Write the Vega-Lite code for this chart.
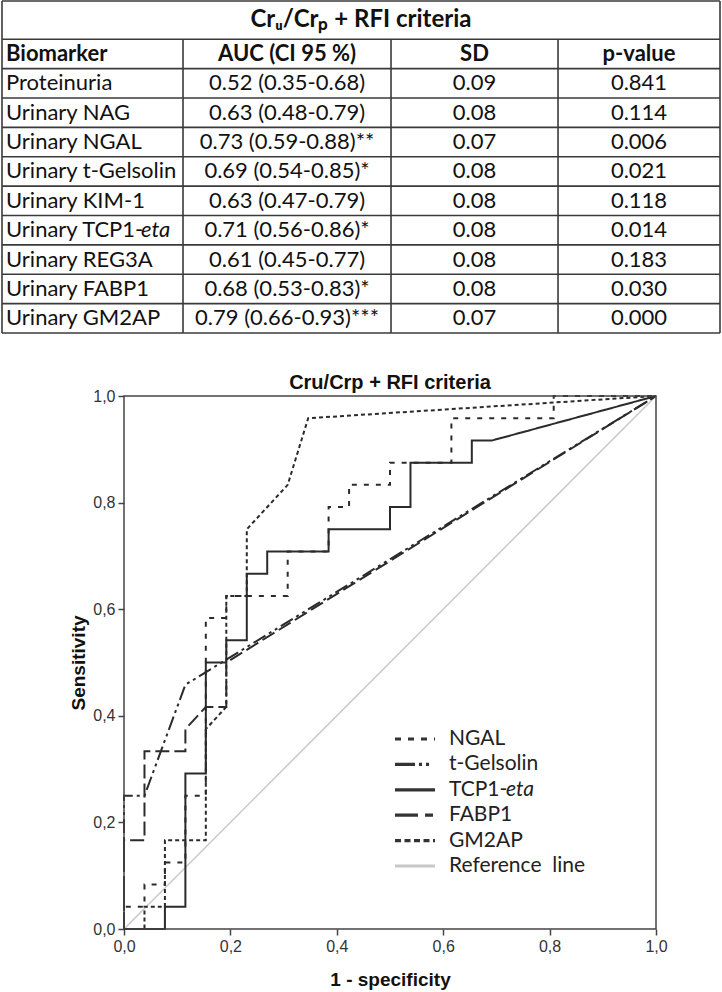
{
  "$schema": "https://vega.github.io/schema/vega-lite/v6.json",
  "width": 722,
  "height": 929,
  "autosize": "none",
  "padding": {"left": 0, "top": 0, "right": 0, "bottom": 63},
  "background": "#ffffff",
  "config": {"view": {"stroke": null}},
  "datasets": {
    "table": [
      {"row": 1, "Biomarker": "Proteinuria", "AUC": "0.52 (0.35-0.68)", "SD": "0.09", "p": "0.841"},
      {"row": 2, "Biomarker": "Urinary NAG", "AUC": "0.63 (0.48-0.79)", "SD": "0.08", "p": "0.114"},
      {"row": 3, "Biomarker": "Urinary NGAL", "AUC": "0.73 (0.59-0.88)**", "SD": "0.07", "p": "0.006"},
      {"row": 4, "Biomarker": "Urinary t-Gelsolin", "AUC": "0.69 (0.54-0.85)*", "SD": "0.08", "p": "0.021"},
      {"row": 5, "Biomarker": "Urinary KIM-1", "AUC": "0.63 (0.47-0.79)", "SD": "0.08", "p": "0.118"},
      {"row": 6, "Biomarker": "Urinary TCP1-", "ital": "eta", "AUC": "0.71 (0.56-0.86)*", "SD": "0.08", "p": "0.014"},
      {"row": 7, "Biomarker": "Urinary REG3A", "AUC": "0.61 (0.45-0.77)", "SD": "0.08", "p": "0.183"},
      {"row": 8, "Biomarker": "Urinary FABP1", "AUC": "0.68 (0.53-0.83)*", "SD": "0.08", "p": "0.030"},
      {"row": 9, "Biomarker": "Urinary GM2AP", "AUC": "0.79 (0.66-0.93)***", "SD": "0.07", "p": "0.000"}
    ],
    "hlines": [
      {"y": -1.8}, {"y": -0.5}, {"y": 0.5}, {"y": 1.5}, {"y": 2.5}, {"y": 3.5},
      {"y": 4.5}, {"y": 5.5}, {"y": 6.5}, {"y": 7.5}, {"y": 8.5}, {"y": 9.5}
    ],
    "vlines": [
      {"x": 0, "y1": -1.8, "y2": 9.5},
      {"x": 1, "y1": -1.8, "y2": 9.5},
      {"x": 0.2521, "y1": -0.5, "y2": 9.5},
      {"x": 0.5418, "y1": -0.5, "y2": 9.5},
      {"x": 0.7744, "y1": -0.5, "y2": 9.5}
    ],
    "ref": [{"x": 0, "y": 0}, {"x": 1, "y": 1}],
    "roc": [
      {"s": "NGAL", "i": 0, "x": 0, "y": 0},
      {"s": "NGAL", "i": 1, "x": 0, "y": 0.0417},
      {"s": "NGAL", "i": 2, "x": 0.0385, "y": 0.0417},
      {"s": "NGAL", "i": 3, "x": 0.0385, "y": 0.0833},
      {"s": "NGAL", "i": 4, "x": 0.0769, "y": 0.0833},
      {"s": "NGAL", "i": 5, "x": 0.0769, "y": 0.125},
      {"s": "NGAL", "i": 6, "x": 0.1154, "y": 0.125},
      {"s": "NGAL", "i": 7, "x": 0.1154, "y": 0.25},
      {"s": "NGAL", "i": 8, "x": 0.1538, "y": 0.25},
      {"s": "NGAL", "i": 9, "x": 0.1538, "y": 0.5833},
      {"s": "NGAL", "i": 10, "x": 0.1923, "y": 0.5833},
      {"s": "NGAL", "i": 11, "x": 0.1923, "y": 0.625},
      {"s": "NGAL", "i": 12, "x": 0.3077, "y": 0.625},
      {"s": "NGAL", "i": 13, "x": 0.3077, "y": 0.7083},
      {"s": "NGAL", "i": 14, "x": 0.3846, "y": 0.7083},
      {"s": "NGAL", "i": 15, "x": 0.3846, "y": 0.7917},
      {"s": "NGAL", "i": 16, "x": 0.4231, "y": 0.7917},
      {"s": "NGAL", "i": 17, "x": 0.4231, "y": 0.8333},
      {"s": "NGAL", "i": 18, "x": 0.5, "y": 0.8333},
      {"s": "NGAL", "i": 19, "x": 0.5, "y": 0.875},
      {"s": "NGAL", "i": 20, "x": 0.6154, "y": 0.875},
      {"s": "NGAL", "i": 21, "x": 0.6154, "y": 0.9583},
      {"s": "NGAL", "i": 22, "x": 0.8077, "y": 0.9583},
      {"s": "NGAL", "i": 23, "x": 0.8077, "y": 1},
      {"s": "NGAL", "i": 24, "x": 1, "y": 1},
      {"s": "t-Gelsolin", "i": 0, "x": 0, "y": 0},
      {"s": "t-Gelsolin", "i": 1, "x": 0, "y": 0.25},
      {"s": "t-Gelsolin", "i": 2, "x": 0.0385, "y": 0.25},
      {"s": "t-Gelsolin", "i": 3, "x": 0.1154, "y": 0.4583},
      {"s": "t-Gelsolin", "i": 4, "x": 1, "y": 1},
      {"s": "TCP1-eta", "i": 0, "x": 0, "y": 0},
      {"s": "TCP1-eta", "i": 1, "x": 0.0769, "y": 0},
      {"s": "TCP1-eta", "i": 2, "x": 0.0769, "y": 0.0417},
      {"s": "TCP1-eta", "i": 3, "x": 0.1154, "y": 0.0417},
      {"s": "TCP1-eta", "i": 4, "x": 0.1154, "y": 0.2917},
      {"s": "TCP1-eta", "i": 5, "x": 0.1538, "y": 0.2917},
      {"s": "TCP1-eta", "i": 6, "x": 0.1538, "y": 0.5},
      {"s": "TCP1-eta", "i": 7, "x": 0.1923, "y": 0.5},
      {"s": "TCP1-eta", "i": 8, "x": 0.1923, "y": 0.5417},
      {"s": "TCP1-eta", "i": 9, "x": 0.2308, "y": 0.5417},
      {"s": "TCP1-eta", "i": 10, "x": 0.2308, "y": 0.6667},
      {"s": "TCP1-eta", "i": 11, "x": 0.2692, "y": 0.6667},
      {"s": "TCP1-eta", "i": 12, "x": 0.2692, "y": 0.7083},
      {"s": "TCP1-eta", "i": 13, "x": 0.3846, "y": 0.7083},
      {"s": "TCP1-eta", "i": 14, "x": 0.3846, "y": 0.75},
      {"s": "TCP1-eta", "i": 15, "x": 0.5, "y": 0.75},
      {"s": "TCP1-eta", "i": 16, "x": 0.5, "y": 0.7917},
      {"s": "TCP1-eta", "i": 17, "x": 0.5385, "y": 0.7917},
      {"s": "TCP1-eta", "i": 18, "x": 0.5385, "y": 0.875},
      {"s": "TCP1-eta", "i": 19, "x": 0.6538, "y": 0.875},
      {"s": "TCP1-eta", "i": 20, "x": 0.6538, "y": 0.9167},
      {"s": "TCP1-eta", "i": 21, "x": 0.6923, "y": 0.9167},
      {"s": "TCP1-eta", "i": 22, "x": 1, "y": 1},
      {"s": "FABP1", "i": 0, "x": 0, "y": 0},
      {"s": "FABP1", "i": 1, "x": 0, "y": 0.1667},
      {"s": "FABP1", "i": 2, "x": 0.0385, "y": 0.1667},
      {"s": "FABP1", "i": 3, "x": 0.0385, "y": 0.3333},
      {"s": "FABP1", "i": 4, "x": 0.1154, "y": 0.3333},
      {"s": "FABP1", "i": 5, "x": 0.1154, "y": 0.375},
      {"s": "FABP1", "i": 6, "x": 0.1538, "y": 0.4167},
      {"s": "FABP1", "i": 7, "x": 0.1923, "y": 0.4167},
      {"s": "FABP1", "i": 8, "x": 0.1923, "y": 0.5},
      {"s": "FABP1", "i": 9, "x": 1, "y": 1},
      {"s": "GM2AP", "i": 0, "x": 0, "y": 0},
      {"s": "GM2AP", "i": 1, "x": 0.0385, "y": 0},
      {"s": "GM2AP", "i": 2, "x": 0.0385, "y": 0.0417},
      {"s": "GM2AP", "i": 3, "x": 0.0769, "y": 0.0417},
      {"s": "GM2AP", "i": 4, "x": 0.0769, "y": 0.1667},
      {"s": "GM2AP", "i": 5, "x": 0.1538, "y": 0.1667},
      {"s": "GM2AP", "i": 6, "x": 0.1538, "y": 0.375},
      {"s": "GM2AP", "i": 7, "x": 0.1923, "y": 0.4167},
      {"s": "GM2AP", "i": 8, "x": 0.1923, "y": 0.625},
      {"s": "GM2AP", "i": 9, "x": 0.2308, "y": 0.625},
      {"s": "GM2AP", "i": 10, "x": 0.2308, "y": 0.75},
      {"s": "GM2AP", "i": 11, "x": 0.3077, "y": 0.8333},
      {"s": "GM2AP", "i": 12, "x": 0.3462, "y": 0.9583},
      {"s": "GM2AP", "i": 13, "x": 1, "y": 1}
    ],
    "legend": [
      {"order": 0, "key": "NGAL", "label": "NGAL"},
      {"order": 1, "key": "t-Gelsolin", "label": "t-Gelsolin"},
      {"order": 2, "key": "TCP1-eta", "label": "TCP1-", "ital": "eta"},
      {"order": 3, "key": "FABP1", "label": "FABP1"},
      {"order": 4, "key": "GM2AP", "label": "GM2AP"},
      {"order": 5, "key": "Reference line", "label": "Reference\u00a0 line"}
    ]
  },
  "layer": [
    {
      "layer": [
        {
          "data": {"name": "hlines"},
          "mark": {"type": "rule", "stroke": "#3a3a3a", "strokeWidth": 1.6},
          "encoding": {
            "x": {"datum": 0, "type": "quantitative", "scale": {"domain": [0, 1], "range": [2, 720], "nice": false, "zero": false}, "axis": null},
            "x2": {"datum": 1},
            "y": {"field": "y", "type": "quantitative", "scale": {"domain": [-1.8, 9.5], "range": [1, 333], "nice": false, "zero": false}, "axis": null}
          }
        },
        {
          "data": {"name": "vlines"},
          "mark": {"type": "rule", "stroke": "#3a3a3a", "strokeWidth": 1.6},
          "encoding": {
            "x": {"field": "x", "type": "quantitative", "axis": null},
            "y": {"field": "y1", "type": "quantitative", "axis": null},
            "y2": {"field": "y2"}
          }
        },
        {
          "data": {"values": [{"t": "Cr\u1d64/Cr\u209a + RFI criteria"}]},
          "mark": {"type": "text", "font": "Lato", "fontSize": 24, "fontWeight": "bold", "color": "#111", "align": "center", "baseline": "middle"},
          "encoding": {
            "x": {"datum": 0.5, "type": "quantitative", "axis": null},
            "y": {"datum": -1.15, "type": "quantitative", "axis": null},
            "text": {"field": "t"}
          }
        },
        {
          "data": {"values": [{"t": "Biomarker"}]},
          "mark": {"type": "text", "font": "Lato", "fontSize": 22, "fontWeight": "bold", "color": "#111", "align": "left", "baseline": "middle", "dx": 4},
          "encoding": {
            "x": {"datum": 0, "type": "quantitative", "axis": null},
            "y": {"datum": 0, "type": "quantitative", "axis": null},
            "text": {"field": "t"}
          }
        },
        {
          "data": {"values": [{"t": "AUC (CI 95 %)"}]},
          "mark": {"type": "text", "font": "Lato", "fontSize": 22, "fontWeight": "bold", "color": "#111", "align": "center", "baseline": "middle"},
          "encoding": {
            "x": {"datum": 0.397, "type": "quantitative", "axis": null},
            "y": {"datum": 0, "type": "quantitative", "axis": null},
            "text": {"field": "t"}
          }
        },
        {
          "data": {"values": [{"t": "SD"}]},
          "mark": {"type": "text", "font": "Lato", "fontSize": 22, "fontWeight": "bold", "color": "#111", "align": "center", "baseline": "middle"},
          "encoding": {
            "x": {"datum": 0.6581, "type": "quantitative", "axis": null},
            "y": {"datum": 0, "type": "quantitative", "axis": null},
            "text": {"field": "t"}
          }
        },
        {
          "data": {"values": [{"t": "p-value"}]},
          "mark": {"type": "text", "font": "Lato", "fontSize": 22, "fontWeight": "bold", "color": "#111", "align": "center", "baseline": "middle"},
          "encoding": {
            "x": {"datum": 0.8872, "type": "quantitative", "axis": null},
            "y": {"datum": 0, "type": "quantitative", "axis": null},
            "text": {"field": "t"}
          }
        },
        {
          "data": {"name": "table"},
          "mark": {"type": "text", "font": "Lato", "fontSize": 22, "color": "#111", "align": "left", "baseline": "middle", "dx": 4},
          "encoding": {
            "x": {"datum": 0, "type": "quantitative", "axis": null},
            "y": {"field": "row", "type": "quantitative", "axis": null},
            "text": {"field": "Biomarker"}
          }
        },
        {
          "data": {"name": "table"},
          "transform": [{"filter": "isValid(datum.ital)"}],
          "mark": {"type": "text", "font": "Lato", "fontSize": 22, "fontStyle": "italic", "color": "#111", "align": "left", "baseline": "middle", "dx": 139},
          "encoding": {
            "x": {"datum": 0, "type": "quantitative", "axis": null},
            "y": {"field": "row", "type": "quantitative", "axis": null},
            "text": {"field": "ital"}
          }
        },
        {
          "data": {"name": "table"},
          "mark": {"type": "text", "font": "Lato", "fontSize": 22, "color": "#111", "align": "center", "baseline": "middle"},
          "encoding": {
            "x": {"datum": 0.397, "type": "quantitative", "axis": null},
            "y": {"field": "row", "type": "quantitative", "axis": null},
            "text": {"field": "AUC"}
          }
        },
        {
          "data": {"name": "table"},
          "mark": {"type": "text", "font": "Lato", "fontSize": 22, "color": "#111", "align": "center", "baseline": "middle"},
          "encoding": {
            "x": {"datum": 0.6581, "type": "quantitative", "axis": null},
            "y": {"field": "row", "type": "quantitative", "axis": null},
            "text": {"field": "SD"}
          }
        },
        {
          "data": {"name": "table"},
          "mark": {"type": "text", "font": "Lato", "fontSize": 22, "color": "#111", "align": "center", "baseline": "middle"},
          "encoding": {
            "x": {"datum": 0.8872, "type": "quantitative", "axis": null},
            "y": {"field": "row", "type": "quantitative", "axis": null},
            "text": {"field": "p"}
          }
        }
      ]
    },
    {
      "layer": [
        {
          "data": {"name": "ref"},
          "mark": {"type": "line", "stroke": "#c8c8c8", "strokeWidth": 1.5},
          "encoding": {
            "x": {
              "field": "x", "type": "quantitative",
              "scale": {"domain": [0, 1], "range": [124, 656], "nice": false, "zero": false},
              "axis": {
                "values": [0, 0.2, 0.4, 0.6, 0.8, 1],
                "labelExpr": "replace(format(datum.value, '.1f'), '.', ',')",
                "title": "1 - specificity",
                "titleFont": "Liberation Sans", "titleFontSize": 19, "titleFontWeight": "bold", "titleColor": "#111", "titlePadding": 16,
                "labelFont": "Liberation Sans", "labelFontSize": 16, "labelColor": "#333", "labelPadding": 3, "labelFlush": false, "labelOverlap": false,
                "tickSize": 6, "tickColor": "#444", "tickWidth": 1.5, "domain": false, "grid": false
              }
            },
            "y": {
              "field": "y", "type": "quantitative",
              "scale": {"domain": [0, 1], "range": [929, 396], "nice": false, "zero": false},
              "axis": {
                "values": [0, 0.2, 0.4, 0.6, 0.8, 1],
                "labelExpr": "replace(format(datum.value, '.1f'), '.', ',')",
                "title": "Sensitivity", "offset": -124,
                "titleFont": "Liberation Sans", "titleFontSize": 19, "titleFontWeight": "bold", "titleColor": "#111", "titlePadding": 4,
                "labelFont": "Liberation Sans", "labelFontSize": 16, "labelColor": "#333", "labelPadding": 3, "labelFlush": false, "labelOverlap": false,
                "tickSize": 6, "tickColor": "#444", "tickWidth": 1.5, "domain": false, "grid": false
              }
            }
          }
        },
        {
          "data": {"name": "roc"},
          "mark": {"type": "line", "stroke": "#2b2b2b", "strokeWidth": 2},
          "encoding": {
            "x": {"field": "x", "type": "quantitative"},
            "y": {"field": "y", "type": "quantitative"},
            "strokeDash": {
              "field": "s", "type": "nominal", "legend": null,
              "scale": {
                "domain": ["NGAL", "t-Gelsolin", "TCP1-eta", "FABP1", "GM2AP"],
                "range": [[5, 7], [14, 4, 3, 4, 3, 4], [1, 0], [14, 5], [4, 3]]
              }
            },
            "order": {"field": "i", "type": "quantitative"}
          }
        },
        {
          "data": {"values": [{}]},
          "mark": {"type": "rect", "fillOpacity": 0, "stroke": "#444", "strokeWidth": 1.5},
          "encoding": {
            "x": {"datum": 0, "type": "quantitative"},
            "x2": {"datum": 1},
            "y": {"datum": 0, "type": "quantitative"},
            "y2": {"datum": 1}
          }
        },
        {
          "data": {"values": [{"t": "Cru/Crp + RFI criteria"}]},
          "mark": {"type": "text", "font": "Liberation Sans", "fontSize": 20, "fontWeight": "bold", "color": "#111", "align": "center", "baseline": "middle"},
          "encoding": {
            "x": {"datum": 0.5, "type": "quantitative"},
            "y": {"datum": 1.025, "type": "quantitative"},
            "text": {"field": "t"}
          }
        }
      ]
    },
    {
      "data": {"name": "legend"},
      "layer": [
        {
          "mark": {"type": "rule", "strokeWidth": 3.2},
          "encoding": {
            "x": {"datum": 0, "type": "quantitative", "scale": {"domain": [0, 1], "range": [395, 435], "nice": false, "zero": false}, "axis": null},
            "x2": {"datum": 1},
            "y": {"field": "order", "type": "quantitative", "scale": {"domain": [0, 5], "range": [739, 866], "nice": false, "zero": false}, "axis": null},
            "strokeDash": {
              "field": "key", "type": "nominal", "legend": null,
              "scale": {
                "domain": ["NGAL", "t-Gelsolin", "TCP1-eta", "FABP1", "GM2AP", "Reference line"],
                "range": [[6, 7], [20, 4, 3, 4, 3, 6], [1, 0], [23, 7, 8, 2], [6, 3.5], [1, 0]]
              }
            },
            "stroke": {
              "field": "key", "type": "nominal", "legend": null,
              "scale": {
                "domain": ["NGAL", "t-Gelsolin", "TCP1-eta", "FABP1", "GM2AP", "Reference line"],
                "range": ["#333333", "#333333", "#333333", "#333333", "#333333", "#c8c8c8"]
              }
            }
          }
        },
        {
          "mark": {"type": "text", "font": "Lato", "fontSize": 21, "color": "#222", "align": "left", "baseline": "middle", "dx": 14},
          "encoding": {
            "x": {"datum": 1, "type": "quantitative", "axis": null},
            "y": {"field": "order", "type": "quantitative", "axis": null},
            "text": {"field": "label"}
          }
        },
        {
          "transform": [{"filter": "isValid(datum.ital)"}],
          "mark": {"type": "text", "font": "Lato", "fontSize": 21, "fontStyle": "italic", "color": "#222", "align": "left", "baseline": "middle", "dx": 71},
          "encoding": {
            "x": {"datum": 1, "type": "quantitative", "axis": null},
            "y": {"field": "order", "type": "quantitative", "axis": null},
            "text": {"field": "ital"}
          }
        }
      ]
    }
  ],
  "resolve": {"scale": {"x": "independent", "y": "independent", "stroke": "independent", "strokeDash": "independent"}}
}
